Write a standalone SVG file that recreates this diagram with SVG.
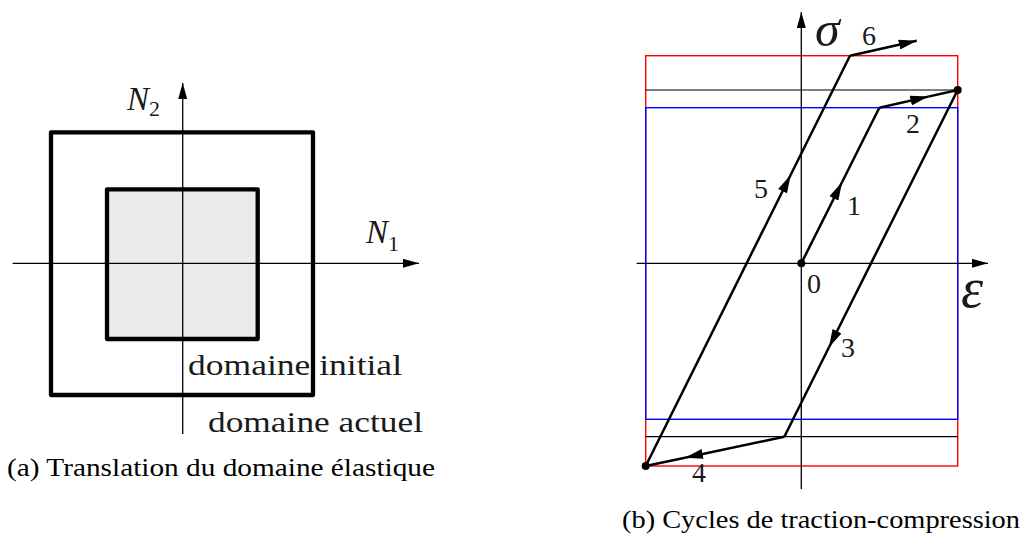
<svg xmlns="http://www.w3.org/2000/svg" width="1025" height="540" viewBox="0 0 1025 540">
<style>
.axis{stroke:#000;stroke-width:1.3;fill:none}
.sq{stroke:#000;stroke-width:4.3;stroke-linejoin:round}
.pth{stroke:#000;stroke-width:2.5;fill:none;stroke-linejoin:round}
.red{stroke:#ff0000;stroke-width:1.4;fill:none}
.blue{stroke:#0000ff;stroke-width:1.4;fill:none}
.thin{stroke:#000;stroke-width:1.2}
.lbl{font-family:"Liberation Serif",serif;fill:#1a1a1a}
.math{font-family:"Liberation Serif",serif;font-style:italic;fill:#1a1a1a}
.cap{font-family:"Liberation Serif",serif;font-size:25px;fill:#000}
.num{font-family:"Liberation Serif",serif;font-size:28px;fill:#1a1a1a}
</style>
<defs>
<marker id="ah" markerUnits="userSpaceOnUse" markerWidth="18" markerHeight="10" refX="18" refY="5" orient="auto">
<path d="M0,0 L18,5 L0,10 z" fill="#000"/>
</marker>
<marker id="ax" markerUnits="userSpaceOnUse" markerWidth="16" markerHeight="9" refX="16" refY="4.5" orient="auto">
<path d="M0,0 L16,4.5 L0,9 z" fill="#000"/>
</marker>
</defs>
<rect width="1025" height="540" fill="#fff"/>

<!-- Left diagram -->
<g id="domaine-actuel">
<rect class="sq" x="51" y="132.3" width="262" height="262.7" fill="none"/>
</g>
<g id="domaine-initial">
<rect class="sq" x="107" y="189.3" width="150.7" height="149.7" fill="#ebebeb"/>
</g>
<g id="axes-a">
<line class="axis" x1="182.7" y1="434" x2="182.7" y2="83" marker-end="url(#ax)"/>
<line class="axis" x1="12.7" y1="263.3" x2="419" y2="263.3" marker-end="url(#ax)"/>
</g>
<g id="labels-a">
<text class="math" x="127" y="110" font-size="33">N<tspan font-style="normal" font-size="22" dy="6">2</tspan></text>
<text class="math" x="366" y="243" font-size="33">N<tspan font-style="normal" font-size="22" dy="8">1</tspan></text>
<text class="lbl" x="188" y="375" font-size="29" textLength="214" lengthAdjust="spacingAndGlyphs">domaine initial</text>
<text class="lbl" x="208" y="432" font-size="29" textLength="215" lengthAdjust="spacingAndGlyphs">domaine actuel</text>
<text class="cap" x="7" y="476" textLength="428" lengthAdjust="spacingAndGlyphs">(a) Translation du domaine élastique</text>
</g>

<!-- Right diagram -->
<g id="domains-b">
<rect class="red" x="645.7" y="55.7" width="312" height="410.3"/>
<rect class="blue" x="645.7" y="107.7" width="312" height="311.6"/>
<line class="thin" x1="645.7" y1="90" x2="957.7" y2="90"/>
<line class="thin" x1="645.7" y1="436.7" x2="957.7" y2="436.7"/>
</g>
<g id="axes-b">
<line class="axis" x1="801.3" y1="489" x2="801.3" y2="12" marker-end="url(#ax)"/>
<line class="axis" x1="636.7" y1="263.3" x2="988" y2="263.3" marker-end="url(#ax)"/>
</g>
<g id="connectors">
<line class="pth" x1="801.3" y1="263.3" x2="842" y2="182.3" marker-end="url(#ah)"/>
<line class="pth" x1="842" y1="182.3" x2="879.3" y2="107.7"/>
<line class="pth" x1="879.3" y1="107.7" x2="928.3" y2="96.6" marker-end="url(#ah)"/>
<line class="pth" x1="928.3" y1="96.6" x2="957.7" y2="90"/>
<line class="pth" x1="957.7" y1="90" x2="829" y2="347.3" marker-end="url(#ah)"/>
<line class="pth" x1="829" y1="347.3" x2="784.3" y2="436.7"/>
<line class="pth" x1="784.3" y1="436.7" x2="685" y2="457.7" marker-end="url(#ah)"/>
<line class="pth" x1="685" y1="457.7" x2="645.7" y2="466"/>
<line class="pth" x1="645.7" y1="466" x2="790.6" y2="175" marker-end="url(#ah)"/>
<line class="pth" x1="790.6" y1="175" x2="850" y2="55.7"/>
<line class="pth" x1="850" y1="55.7" x2="916.7" y2="40.7" marker-end="url(#ah)"/>
</g>
<g id="points">
<circle cx="801.3" cy="263.3" r="4" fill="#000"/>
<circle cx="957.7" cy="90" r="4" fill="#000"/>
<circle cx="645.7" cy="466" r="4" fill="#000"/>
</g>
<g id="labels-b">
<text class="math" x="815" y="46" font-size="50">σ</text>
<text class="math" x="961" y="307" font-size="56">ε</text>
<text class="num" x="862" y="45">6</text>
<text class="num" x="906" y="133">2</text>
<text class="num" x="754" y="198">5</text>
<text class="num" x="847" y="215">1</text>
<text class="num" x="807" y="293">0</text>
<text class="num" x="841" y="357">3</text>
<text class="num" x="692" y="482">4</text>
<text class="cap" x="622" y="528" textLength="398" lengthAdjust="spacingAndGlyphs">(b) Cycles de traction-compression</text>
</g>
</svg>
